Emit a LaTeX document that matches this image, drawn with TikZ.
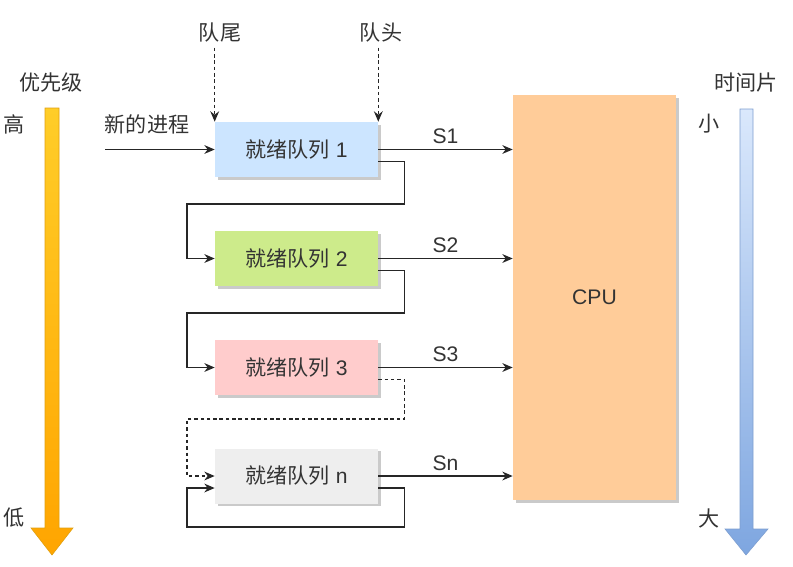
\documentclass[tikz,border=0pt]{standalone}
\usepackage{fontspec}
\setmainfont{Liberation Sans}
\newfontfamily\cjk{Noto Sans CJK SC}
\usetikzlibrary{arrows.meta,shadows}

\definecolor{qblue}{HTML}{CCE5FF}
\definecolor{qgreen}{HTML}{CDEB8B}
\definecolor{qpink}{HTML}{FFCCCC}
\definecolor{qgray}{HTML}{EEEEEE}
\definecolor{cpufill}{HTML}{FFCC99}
\definecolor{prioTop}{HTML}{FFCD28}
\definecolor{prioBot}{HTML}{FFA500}
\definecolor{prioLine}{HTML}{E0A010}
\definecolor{sliceTop}{HTML}{DAE8FC}
\definecolor{sliceBot}{HTML}{7EA6E0}
\definecolor{sliceLine}{HTML}{7E9ECF}

\begin{document}
\begin{tikzpicture}[x=0.025cm, y=-0.025cm,
    font=\fontsize{15}{17}\selectfont, text=black!80,
    queue/.style={fill=#1, minimum width=4.075cm, minimum height=1.375cm,
        drop shadow={shadow xshift=0.07cm, shadow yshift=-0.07cm, fill=black!35, opacity=0.6}},
    flow/.style={-{Stealth[length=2.6mm,width=2.2mm]}, line width=0.9pt, draw=black!85},
    hint/.style={flow, dash pattern=on 2.5pt off 2pt}]

    \useasboundingbox (0,0) rectangle (793,566);

    % priority and time slice
    \shade[top color=prioTop, bottom color=prioBot, draw=prioLine, line width=0.4pt]
        (45,108) -- (59,108) -- (59,528) -- (73,528) -- (52,555) -- (31,528) -- (45,528) -- cycle;
    \shade[top color=sliceTop, bottom color=sliceBot, draw=sliceLine, line width=0.4pt]
        (740,109) -- (753,109) -- (753,529) -- (768,529) -- (746,555) -- (725,529) -- (740,529) -- cycle;
    \node (prio) at (51,83) {\cjk 优先级};
    \node (high) at (14,124) {\cjk 高};
    \node (low) at (14,518) {\cjk 低};
    \node (slice) at (746,83) {\cjk 时间片};
    \node (small) at (709,124) {\cjk 小};
    \node (big) at (709,518) {\cjk 大};

    % queues
    \node[queue=qblue] (q1) at (296.5,149.5) {{\cjk 就绪队列} 1};
    \node[queue=qgreen] (q2) at (296.5,258.5) {{\cjk 就绪队列} 2};
    \node[queue=qpink] (q3) at (296.5,367.5) {{\cjk 就绪队列} 3};
    \node[queue=qgray] (qn) at (296.5,476) {{\cjk 就绪队列} n};
    \node[queue=cpufill, minimum height=10.125cm] (cpu) at (594.5,297.5) {CPU};

    \node (tail) at (220,33) {\cjk 队尾};
    \node (head) at (381,33) {\cjk 队头};
    \node (newp) at (147,124) {\cjk 新的进程};
    \coordinate (newin) at (105,149.5);

    \draw[hint] (tail.south -| q1.north west) -- (q1.north west);
    \draw[hint] (head.south -| q1.north east) -- (q1.north east);
    \draw[flow] (newin) -- (q1.west);

    % to the cpu
    \draw[flow] (q1.east) -- (q1.east -| cpu.west) node[midway, above] {S1};
    \draw[flow] (q2.east) -- (q2.east -| cpu.west) node[midway, above] {S2};
    \draw[flow] (q3.east) -- (q3.east -| cpu.west) node[midway, above] {S3};
    \draw[flow] (qn.east) -- (qn.east -| cpu.west) node[midway, above] {Sn};

    % down to the next queue
    \draw[flow] ([yshift=-0.3cm]q1.east) -- ++(26,0) |- (187,204) |- (q2.west);
    \draw[flow] ([yshift=-0.3cm]q2.east) -- ++(26,0) |- (187,313) |- (q3.west);
    \draw[hint] ([yshift=-0.3cm]q3.east) -- ++(26,0) |- (187,419) |- (qn.west);
    \draw[flow] ([yshift=-0.3cm]qn.east) -- ++(26,0) |- (187,527) |- ([yshift=-0.3cm]qn.west);
\end{tikzpicture}
\end{document}
